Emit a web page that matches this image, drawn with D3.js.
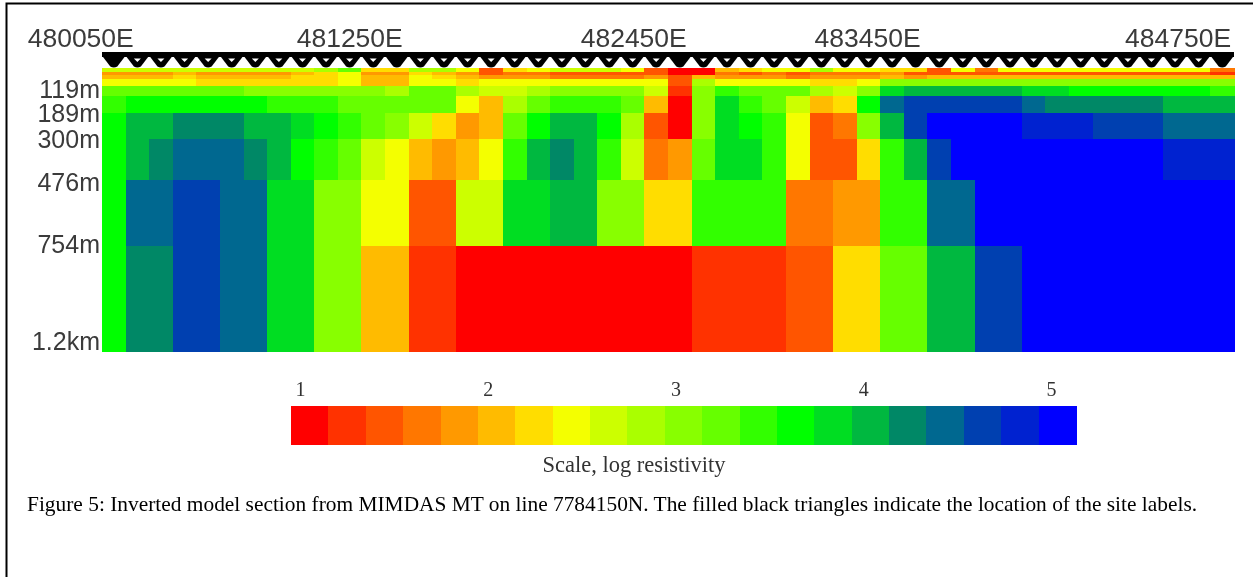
<!DOCTYPE html>
<html>
<head>
<meta charset="utf-8">
<script src="https://cdnjs.cloudflare.com/ajax/libs/d3/7.8.5/d3.min.js"></script>
<style>
    html, body { margin: 0; padding: 0; background: #fff; overflow: hidden; }
    .sans { font-family: "Liberation Sans", Arial, sans-serif; fill: #3a3a3a; }
    .serif { font-family: "Liberation Serif", "Times New Roman", serif; }
</style>
</head>
<body>
<svg id="chart" width="1253" height="577"></svg>
<script>
// Site labels along the line, easting in metres
const sites = d3.range(480050, 484751, 100);
const majorSites = [480050, 481250, 482450, 483450, 484750];

// Lower depth of each model layer, metres
const layerDepths = [15, 30, 47, 75, 119, 189, 300, 476, 754, 1200];
const depthTicks = [119, 189, 300, 476, 754, 1200];
const depthLabels = ['119m', '189m', '300m', '476m', '754m', '1.2km'];

// Log resistivity per layer, one value per site
const layer15 = [2.6,2.6,2.6,2.6,2.6,2.6,2.6,2.6,2.6,2.8,3.2,2.2,2.2,2.8,2.8,2.4,1.4,2.2,2.4,2.6,2.6,2.6,2.4,1.4,1.0,1.0,2.0,2.2,2.4,2.4,2.8,2.4,2.4,2.2,2.2,1.4,2.4,1.6,2.4,2.4,2.4,2.4,2.4,2.4,2.4,2.4,2.4,1.6];
const layer30 = [1.8,1.8,1.8,2.0,1.8,1.8,1.8,1.8,2.0,2.2,2.4,1.8,1.8,2.2,2.0,1.8,1.4,1.6,1.6,1.4,1.4,1.4,1.4,1.4,1.0,1.0,1.6,1.4,1.6,1.4,1.6,1.6,1.6,1.8,1.4,1.4,1.4,1.4,1.4,1.4,1.4,1.4,1.4,1.4,1.4,1.4,1.4,1.2];
const layer47 = [2.0,2.0,2.0,2.2,2.0,2.0,2.0,2.0,2.2,2.2,2.4,2.0,2.0,2.4,2.2,2.0,1.8,1.8,1.8,1.6,1.6,1.6,1.6,1.8,1.4,2.0,1.8,1.8,1.8,1.6,1.8,1.8,1.8,2.0,1.8,2.0,2.0,2.0,2.0,2.0,2.0,2.0,2.0,2.0,2.0,2.0,2.0,2.0];
const layer75 = [2.4,2.4,2.4,2.4,2.2,2.2,2.2,2.2,2.2,2.2,2.4,2.0,2.0,2.4,2.4,2.2,2.4,2.4,2.4,2.4,2.4,2.4,2.4,2.4,1.4,2.8,2.4,2.4,2.4,2.4,2.2,2.2,2.4,3.0,3.0,3.0,3.0,3.0,3.0,3.0,3.0,3.0,3.0,3.0,3.0,3.0,3.0,3.0];
const layer119 = [3.2,3.2,3.2,3.2,3.2,3.2,3.0,3.0,3.0,3.0,3.0,3.0,2.8,3.2,3.2,2.8,2.6,2.6,2.8,3.0,3.0,3.0,3.0,2.6,1.2,3.0,3.4,3.2,3.2,3.2,2.8,2.6,3.0,3.8,4.0,4.0,4.0,4.0,4.0,3.8,3.8,3.6,3.6,3.6,3.6,3.6,3.6,3.4];
const layer189 = [3.4,3.6,3.6,3.6,3.6,3.6,3.6,3.4,3.4,3.4,3.2,3.2,3.2,3.2,3.2,2.4,2.0,2.8,3.2,3.4,3.4,3.4,3.2,2.0,1.0,3.0,3.8,3.4,3.2,2.6,2.0,2.2,3.6,4.4,4.6,4.6,4.6,4.6,4.6,4.4,4.2,4.2,4.2,4.2,4.2,4.0,4.0,4.0];
const layer300 = [3.6,4.0,4.0,4.2,4.2,4.2,4.0,4.0,3.8,3.6,3.4,3.2,3.0,2.6,2.2,1.8,2.0,3.2,3.6,4.0,4.0,3.6,2.8,1.4,1.0,3.0,3.8,3.6,3.4,2.4,1.4,1.6,3.0,4.0,4.6,5.0,5.0,5.0,5.0,4.8,4.8,4.8,4.6,4.6,4.6,4.4,4.4,4.4];
const layer476 = [3.6,4.0,4.2,4.4,4.4,4.4,4.2,4.0,3.6,3.4,3.2,2.6,2.4,2.0,1.8,2.0,2.4,3.4,4.0,4.2,4.0,3.4,2.6,1.6,1.8,3.2,3.8,3.8,3.4,2.4,1.4,1.4,2.2,3.4,4.0,4.6,5.0,5.0,5.0,5.0,5.0,5.0,5.0,5.0,5.0,4.8,4.8,4.8];
const layer754 = [3.6,4.4,4.4,4.6,4.6,4.4,4.4,3.8,3.8,3.0,3.0,2.4,2.4,1.4,1.4,2.6,2.6,3.8,3.8,4.0,4.0,3.0,3.0,2.2,2.2,3.4,3.4,3.4,3.4,1.6,1.6,1.8,1.8,3.4,3.4,4.4,4.4,5.0,5.0,5.0,5.0,5.0,5.0,5.0,5.0,5.0,5.0,5.0];
const layer1200 = [3.6,4.2,4.2,4.6,4.6,4.4,4.4,3.8,3.8,3.0,3.0,2.0,2.0,1.2,1.2,1.0,1.0,1.0,1.0,1.0,1.0,1.0,1.0,1.0,1.0,1.2,1.2,1.2,1.2,1.4,1.4,2.2,2.2,3.2,3.2,4.0,4.0,4.6,4.6,5.0,5.0,5.0,5.0,5.0,5.0,5.0,5.0,5.0];
const layers = [layer15, layer30, layer47, layer75, layer119, layer189, layer300, layer476, layer754, layer1200];

// Legend
const palette = ['#ff0000','#ff3000','#ff5500','#ff7700','#ff9900','#ffbb00','#ffdd00','#f4ff00','#ccff00','#aaff00','#88ff00','#66ff00','#33ff00','#00ff00','#00dd22','#00b840','#008866','#006890','#0040b0','#0020d0','#0000ff'];
const scaleTicks = [1, 2, 3, 4, 5];

const svg = d3.select('#chart');

// Slight softening, the source is a scanned figure
svg.append('defs').append('filter')
    .attr('id', 'soft')
    .attr('x', '-2%').attr('y', '-2%').attr('width', '104%').attr('height', '104%')
    .append('feGaussianBlur')
    .attr('stdDeviation', 0.45);

const main = svg.append('g').attr('filter', 'url(#soft)');

// Frame of the page
main.append('path')
    .attr('d', 'M6.5 577V3.5H1253')
    .attr('fill', 'none')
    .attr('stroke', '#000')
    .attr('stroke-width', 2);

// Scales
const x = d3.scaleBand().domain(sites).range([102, 1234]);
const y = d3.scaleLinear().domain([0, 1200]).range([68.4, 351]);
const color = d3.scaleQuantize().domain([0.9, 5.1]).range(palette);

// Section cells
const section = main.append('g').attr('class', 'section').attr('shape-rendering', 'crispEdges');
layers.forEach((values, i) => {
    const top = i === 0 ? 0 : layerDepths[i - 1];
    section.selectAll(null)
        .data(values)
        .join('rect')
        .attr('x', (d, j) => x(sites[j]))
        .attr('width', x.bandwidth() + 0.5)
        .attr('y', y(top))
        .attr('height', y(layerDepths[i]) - y(top) + 0.5)
        .attr('fill', d => color(d));
});

// Site triangles under the black bar
const markers = main.append('g').attr('class', 'sites');
markers.append('rect')
    .attr('x', x.range()[0])
    .attr('y', 52)
    .attr('width', x.range()[1] - x.range()[0])
    .attr('height', 5)
    .attr('fill', '#000');

markers.selectAll('path.tri')
    .data(sites)
    .join('path')
    .attr('class', 'tri')
    .attr('transform', d => `translate(${x(d) + x.bandwidth() / 2},0)`)
    .attr('d', 'M-11.5 56L11.5 56L3.5 66.5Q0 68.5 -3.5 66.5Z')
    .attr('fill', '#000');

markers.selectAll('path.hole')
    .data(sites.filter(d => !majorSites.includes(d)))
    .join('path')
    .attr('class', 'hole')
    .attr('transform', d => `translate(${x(d) + x.bandwidth() / 2},0)`)
    .attr('d', 'M-3.5 58.5L3.5 58.5L0 62Z')
    .attr('fill', '#fff');

// Easting labels
const eastingShift = [20, 6, 7, 5, 9];
main.append('g').selectAll('text')
    .data(majorSites)
    .join('text')
    .attr('class', 'sans')
    .attr('x', (d, i) => x(d) + x.bandwidth() / 2 + eastingShift[i])
    .attr('y', 47)
    .attr('text-anchor', 'end')
    .attr('font-size', 26.5)
    .text(d => d + 'E');

// Depth labels
const depthShift = [2, 9, 9, 11, 7, -1];
main.append('g').selectAll('text')
    .data(depthTicks)
    .join('text')
    .attr('class', 'sans')
    .attr('x', 100)
    .attr('y', (d, i) => y(d) + depthShift[i])
    .attr('text-anchor', 'end')
    .attr('font-size', 25)
    .text((d, i) => depthLabels[i]);

// Colour scale
const legendX = d3.scaleBand().domain(d3.range(palette.length)).range([291, 1076]);
main.append('g').attr('shape-rendering', 'crispEdges').selectAll('rect')
    .data(palette)
    .join('rect')
    .attr('x', (d, i) => legendX(i))
    .attr('y', 406)
    .attr('width', legendX.bandwidth() + 0.5)
    .attr('height', 39)
    .attr('fill', d => d);

const legendTick = d3.scaleLinear().domain([1, 5]).range([300, 1051]);
const legendAxis = main.append('g')
    .attr('transform', 'translate(0,396)')
    .call(d3.axisTop(legendTick).tickValues(scaleTicks).tickSize(0).tickPadding(0).tickFormat(d3.format('d')));
legendAxis.select('.domain').remove();
legendAxis.selectAll('text')
    .attr('class', 'serif')
    .attr('font-size', 20)
    .attr('fill', '#333');

main.append('text')
    .attr('class', 'serif')
    .attr('x', 634)
    .attr('y', 472)
    .attr('text-anchor', 'middle')
    .attr('font-size', 22.5)
    .attr('fill', '#333')
    .text('Scale, log resistivity');

// Caption
main.append('text')
    .attr('class', 'serif')
    .attr('x', 27)
    .attr('y', 511)
    .attr('font-size', 21.4)
    .attr('fill', '#000')
    .text('Figure 5: Inverted model section from MIMDAS MT on line 7784150N. The filled black triangles indicate the location of the site labels.');
</script>
</body>
</html>
